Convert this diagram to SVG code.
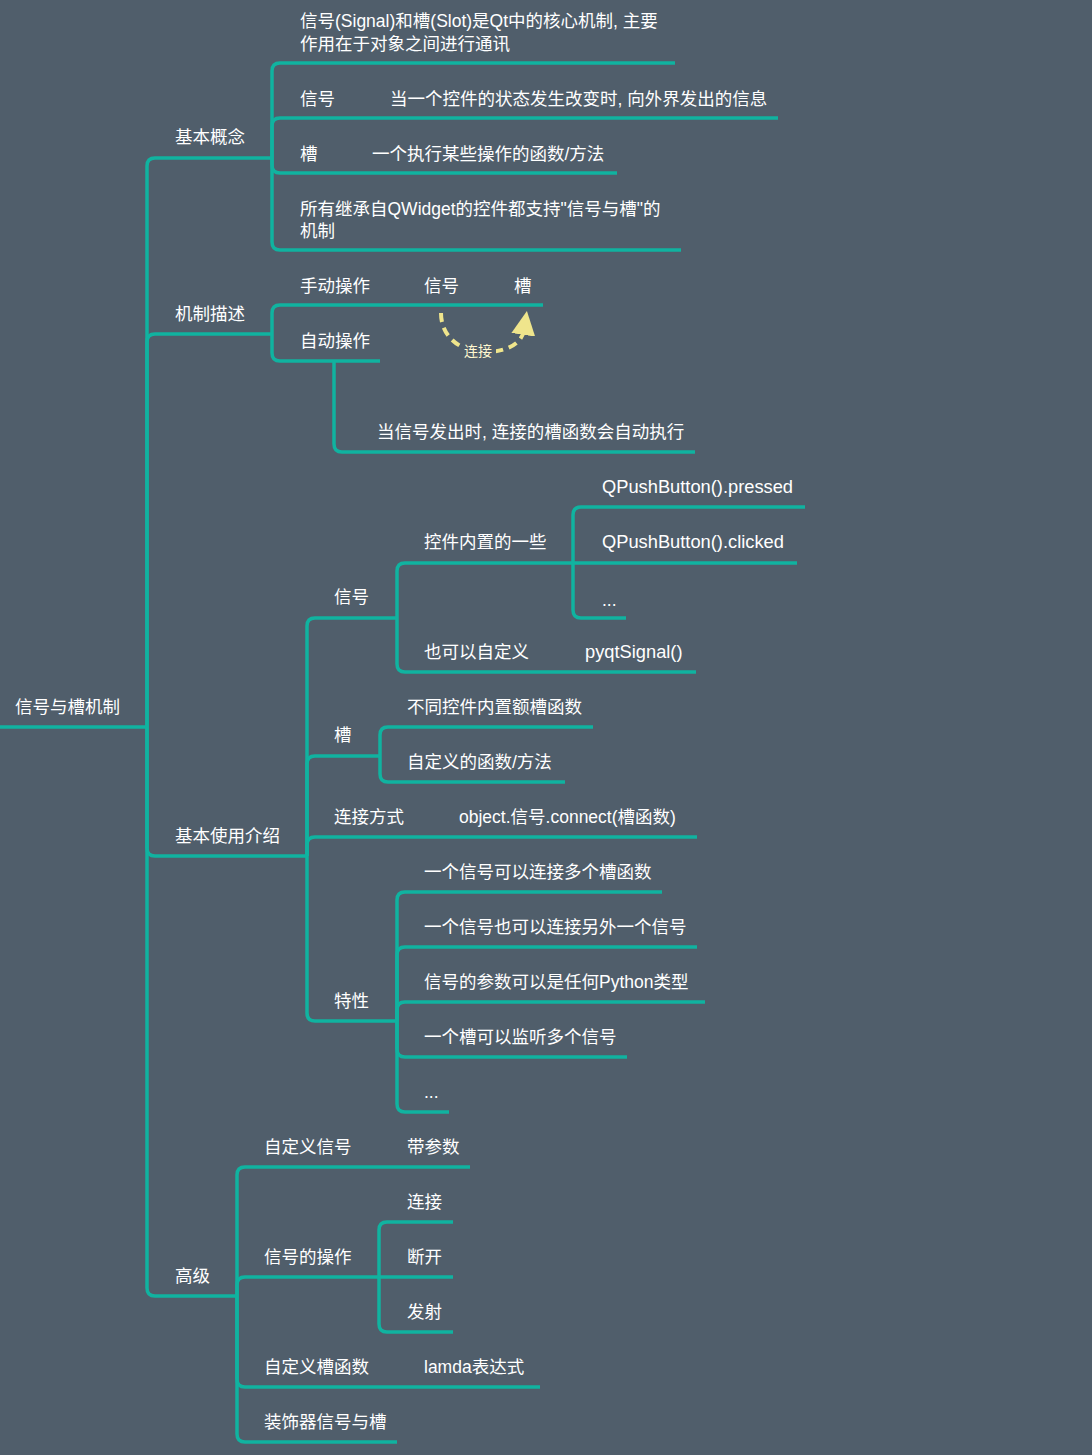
<svg xmlns="http://www.w3.org/2000/svg" width="1092" height="1455" viewBox="0 0 1092 1455">
<defs>
<style>
.t{font-family:"Liberation Sans","Noto Sans CJK SC",sans-serif;font-size:17.5px;fill:#ffffff;}
.l{font-size:18.3px;}
.s{font-family:"Liberation Sans","Noto Sans CJK SC",sans-serif;font-size:14px;fill:#fff8d0;}
.c{fill:none;stroke:#10b3a0;stroke-width:3.5;stroke-linecap:butt;stroke-linejoin:round;}
.d{fill:none;stroke:#efe58c;stroke-width:4;stroke-dasharray:9 6;}
</style>
<marker id="ah" viewBox="0 0 10 10" refX="2" refY="5" markerWidth="6" markerHeight="6" orient="auto" markerUnits="strokeWidth">
<path d="M0,0 L10,5 L0,10 Z" fill="#efe58c"/>
</marker>
</defs>
<rect x="0" y="0" width="1092" height="1455" fill="#505e6b"/>

<g id="connectors">
<path class="c" d="M0,727 H147"/>
<path class="c" d="M147,727 V166 Q147,158 155,158 H272"/>
<path class="c" d="M147,727 V342 Q147,334 155,334 H272"/>
<path class="c" d="M147,727 V848 Q147,856 155,856 H307"/>
<path class="c" d="M147,727 V1288 Q147,1296 155,1296 H237"/>

<path class="c" d="M272,158 V71 Q272,63 280,63 H675"/>
<path class="c" d="M272,158 V126 Q272,118 280,118 H778"/>
<path class="c" d="M272,158 V165 Q272,173 280,173 H617"/>
<path class="c" d="M272,158 V242 Q272,250 280,250 H681"/>

<path class="c" d="M272,334 V313 Q272,305 280,305 H543"/>
<path class="c" d="M272,334 V353 Q272,361 280,361 H380"/>
<path class="c" d="M334,361 V444 Q334,452 342,452 H695"/>

<path class="c" d="M307,856 V626 Q307,618 315,618 H397"/>
<path class="c" d="M307,856 V764 Q307,756 315,756 H380"/>
<path class="c" d="M307,856 V845 Q307,837 315,837 H697"/>
<path class="c" d="M307,856 V1013 Q307,1021 315,1021 H397"/>

<path class="c" d="M397,618 V571 Q397,563 405,563 H573"/>
<path class="c" d="M397,618 V664 Q397,672 405,672 H696"/>
<path class="c" d="M573,563 V515 Q573,507 581,507 H805"/>
<path class="c" d="M573,563 H797"/>
<path class="c" d="M573,563 V610 Q573,618 581,618 H626"/>

<path class="c" d="M380,756 V735 Q380,727 388,727 H593"/>
<path class="c" d="M380,756 V774 Q380,782 388,782 H565"/>

<path class="c" d="M397,1021 V900 Q397,892 405,892 H662"/>
<path class="c" d="M397,1021 V955 Q397,947 405,947 H697"/>
<path class="c" d="M397,1021 V1010 Q397,1002 405,1002 H705"/>
<path class="c" d="M397,1021 V1049 Q397,1057 405,1057 H627"/>
<path class="c" d="M397,1021 V1104 Q397,1112 405,1112 H449"/>

<path class="c" d="M237,1296 V1175 Q237,1167 245,1167 H470"/>
<path class="c" d="M237,1296 V1285 Q237,1277 245,1277 H379"/>
<path class="c" d="M237,1296 V1379 Q237,1387 245,1387 H540"/>
<path class="c" d="M237,1296 V1434 Q237,1442 245,1442 H397"/>

<path class="c" d="M379,1277 V1230 Q379,1222 387,1222 H453"/>
<path class="c" d="M379,1277 H453"/>
<path class="c" d="M379,1277 V1324 Q379,1332 387,1332 H453"/>

<path class="d" d="M441,313 C441,338 462,353 488,352 C508,351 522,343 524,330" marker-end="url(#ah)"/>
<rect x="463" y="342" width="33" height="17" fill="#505e6b"/>
<text class="s" x="464" y="356">连接</text>
</g>

<g id="root"><text class="t" x="15" y="713">信号与槽机制</text></g>

<g id="n-basic"><text class="t" x="175" y="143">基本概念</text></g>
<g id="n-basic-1"><text class="t" x="300" y="27">信号(Signal)和槽(Slot)是Qt中的核心机制, 主要</text><text class="t" x="300" y="50">作用在于对象之间进行通讯</text></g>
<g id="n-basic-2"><text class="t" x="300" y="105">信号</text><text class="t" x="390" y="105">当一个控件的状态发生改变时, 向外界发出的信息</text></g>
<g id="n-basic-3"><text class="t" x="300" y="160">槽</text><text class="t" x="372" y="160">一个执行某些操作的函数/方法</text></g>
<g id="n-basic-4"><text class="t" x="300" y="215">所有继承自QWidget的控件都支持"信号与槽"的</text><text class="t" x="300" y="237">机制</text></g>

<g id="n-mech"><text class="t" x="175" y="320">机制描述</text></g>
<g id="n-mech-1"><text class="t" x="300" y="292">手动操作</text><text class="t" x="424" y="292">信号</text><text class="t" x="514" y="292">槽</text></g>
<g id="n-mech-2"><text class="t" x="300" y="347">自动操作</text></g>
<g id="n-mech-2-1"><text class="t" x="377" y="438">当信号发出时, 连接的槽函数会自动执行</text></g>

<g id="n-use"><text class="t" x="175" y="842">基本使用介绍</text></g>
<g id="n-use-signal"><text class="t" x="334" y="603">信号</text></g>
<g id="n-use-signal-builtin"><text class="t" x="424" y="548">控件内置的一些</text></g>
<g id="n-pressed"><text class="t l" x="602" y="493">QPushButton().pressed</text></g>
<g id="n-clicked"><text class="t l" x="602" y="548">QPushButton().clicked</text></g>
<g id="n-dots1"><text class="t" x="602" y="606">...</text></g>
<g id="n-use-signal-custom"><text class="t" x="424" y="658">也可以自定义</text><text class="t l" x="585" y="658">pyqtSignal()</text></g>
<g id="n-use-slot"><text class="t" x="334" y="741">槽</text></g>
<g id="n-use-slot-1"><text class="t" x="407" y="713">不同控件内置额槽函数</text></g>
<g id="n-use-slot-2"><text class="t" x="407" y="768">自定义的函数/方法</text></g>
<g id="n-use-connect"><text class="t" x="334" y="823">连接方式</text><text class="t" x="459" y="823">object.信号.connect(槽函数)</text></g>
<g id="n-use-feature"><text class="t" x="334" y="1007">特性</text></g>
<g id="n-feat-1"><text class="t" x="424" y="878">一个信号可以连接多个槽函数</text></g>
<g id="n-feat-2"><text class="t" x="424" y="933">一个信号也可以连接另外一个信号</text></g>
<g id="n-feat-3"><text class="t" x="424" y="988">信号的参数可以是任何Python类型</text></g>
<g id="n-feat-4"><text class="t" x="424" y="1043">一个槽可以监听多个信号</text></g>
<g id="n-feat-5"><text class="t" x="424" y="1098">...</text></g>

<g id="n-adv"><text class="t" x="175" y="1282">高级</text></g>
<g id="n-adv-1"><text class="t" x="264" y="1153">自定义信号</text><text class="t" x="407" y="1153">带参数</text></g>
<g id="n-adv-2"><text class="t" x="264" y="1263">信号的操作</text></g>
<g id="n-adv-2-1"><text class="t" x="407" y="1208">连接</text></g>
<g id="n-adv-2-2"><text class="t" x="407" y="1263">断开</text></g>
<g id="n-adv-2-3"><text class="t" x="407" y="1318">发射</text></g>
<g id="n-adv-3"><text class="t" x="264" y="1373">自定义槽函数</text><text class="t" x="424" y="1373">lamda表达式</text></g>
<g id="n-adv-4"><text class="t" x="264" y="1428">装饰器信号与槽</text></g>
</svg>
